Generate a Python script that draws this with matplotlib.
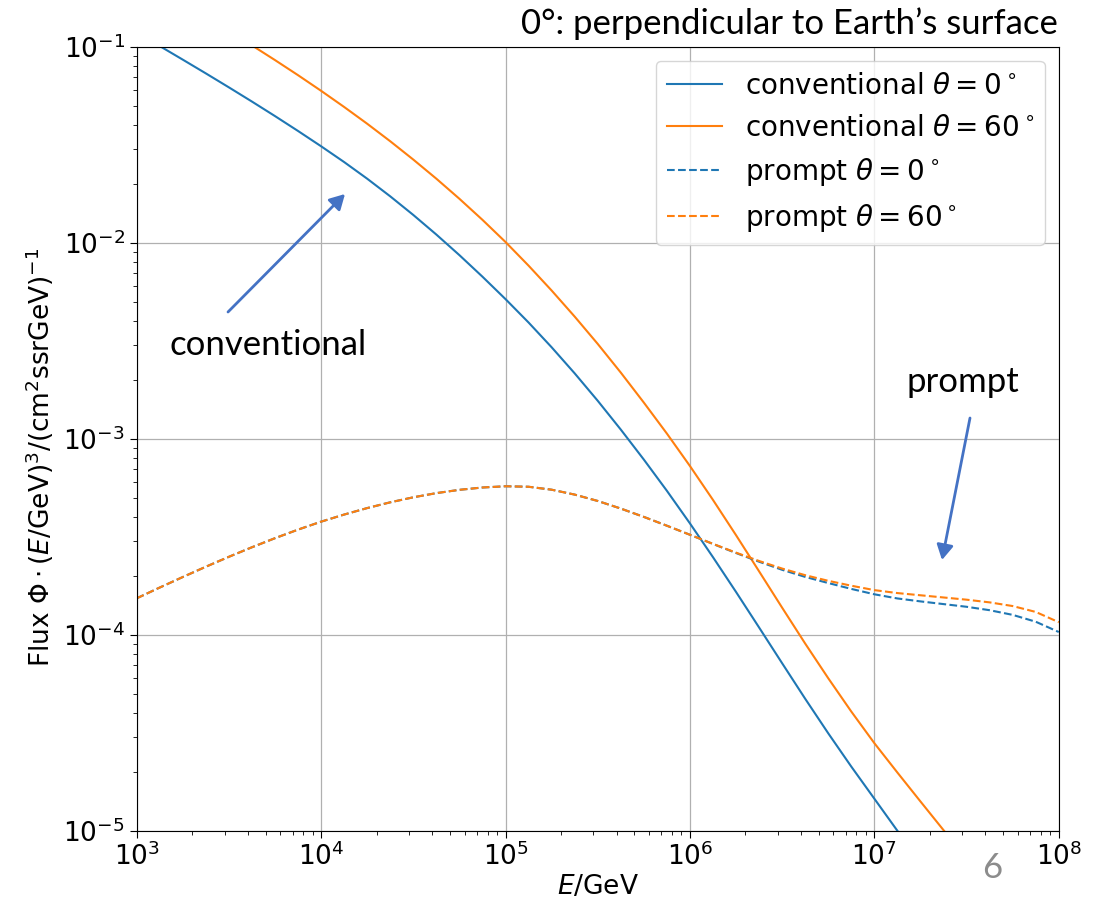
import matplotlib
matplotlib.use("Agg")
import matplotlib.pyplot as plt
from matplotlib.patches import FancyArrowPatch

# ---- data (log10 values) ----
# conventional fluxes: log10(E/GeV) on eighth-decade steps
conv_log_e = [3.0, 3.125, 3.25, 3.375, 3.5, 3.625, 3.75, 3.875, 4.0, 4.125, 4.25,
              4.375, 4.5, 4.625, 4.75, 4.875, 5.0, 5.125, 5.25, 5.375, 5.5, 5.625,
              5.75, 5.875, 6.0, 6.125, 6.25, 6.375, 6.5, 6.625, 6.75, 6.875, 7.0,
              7.125, 7.25, 7.375, 7.5]
conv_0_log_flux = [-0.9267, -0.9956, -1.065, -1.1351, -1.2064, -1.2789, -1.353, -1.429,
                   -1.507, -1.5876, -1.6726, -1.7626, -1.8576, -1.9576, -2.0626, -2.1726,
                   -2.287, -2.4064, -2.5327, -2.6658, -2.8058, -2.9527, -3.1058, -3.2652,
                   -3.4315, -3.604, -3.7815, -3.9628, -4.1453, -4.3265, -4.5028, -4.6728,
                   -4.8365, -5.0003, -5.1603, None, None]
conv_60_log_flux = [None, -0.7051, -0.7757, -0.847, -0.9191, -0.9922, -1.0672, -1.1443,
                    -1.224, -1.3065, -1.3921, -1.4815, -1.575, -1.6725, -1.775, -1.8825,
                    -1.9956, -2.1162, -2.2431, -2.3762, -2.5156, -2.6619, -2.815, -2.9731,
                    -3.1387, -3.3118, -3.4918, -3.6762, -3.8618, -4.0449, -4.2218, -4.3918,
                    -4.5531, -4.7031, -4.8506, -4.9969, -5.1419]

# prompt fluxes: log10(E/GeV) on eighth-decade steps
prompt_log_e = [3.0, 3.125, 3.25, 3.375, 3.5, 3.625, 3.75, 3.875, 4.0, 4.125, 4.25,
                4.375, 4.5, 4.625, 4.75, 4.875, 5.0, 5.125, 5.25, 5.375, 5.5, 5.625,
                5.75, 5.875, 6.0, 6.125, 6.25, 6.375, 6.5, 6.625, 6.75, 6.875, 7.0,
                7.125, 7.25, 7.375, 7.5, 7.625, 7.75, 7.875, 8.0]
prompt_0_log_flux = [-3.814, -3.759, -3.7053, -3.6528, -3.6021, -3.5534, -3.5071, -3.4634,
                     -3.4228, -3.3865, -3.3534, -3.324, -3.2984, -3.2771, -3.2603, -3.2484,
                     -3.2421, -3.2446, -3.2596, -3.2846, -3.3171, -3.3559, -3.3984, -3.4434,
                     -3.4896, -3.5365, -3.5827, -3.6271, -3.6684, -3.7046, -3.7359, -3.7659,
                     -3.7934, -3.8146, -3.8296, -3.8434, -3.8571, -3.8746, -3.8984, -3.9334,
                     -3.9859]
prompt_60_log_flux = [-3.814, -3.759, -3.7053, -3.6528, -3.6021, -3.5534, -3.5071, -3.4634,
                      -3.4228, -3.3865, -3.3534, -3.324, -3.2984, -3.2771, -3.2603, -3.2484,
                      -3.2421, -3.2446, -3.2596, -3.2846, -3.3171, -3.3559, -3.3984, -3.4434,
                      -3.4896, -3.5359, -3.5809, -3.6234, -3.6621, -3.6959, -3.7246, -3.7496,
                      -3.7721, -3.7871, -3.7984, -3.8096, -3.8209, -3.8346, -3.8534, -3.8834,
                      -3.9359]

labels = [r"conventional $\theta = 0^\circ$", r"conventional $\theta = 60^\circ$",
          r"prompt $\theta = 0^\circ$", r"prompt $\theta = 60^\circ$"]


def to_linear(log_x, log_y):
    pts = [(10.0 ** a, 10.0 ** b) for a, b in zip(log_x, log_y) if b is not None]
    return [p[0] for p in pts], [p[1] for p in pts]


fig = plt.figure(figsize=(11.11, 9.02), dpi=100)
ax = fig.add_axes([0.123, 0.079, 0.830, 0.869])

c_blue = "#1f77b4"
c_orange = "#ff7f0e"
x, y = to_linear(conv_log_e, conv_0_log_flux)
ax.plot(x, y, color=c_blue, lw=1.5, label=labels[0])
x, y = to_linear(conv_log_e, conv_60_log_flux)
ax.plot(x, y, color=c_orange, lw=1.5, label=labels[1])
x, y = to_linear(prompt_log_e, prompt_0_log_flux)
ax.plot(x, y, color=c_blue, lw=1.5, ls="--", label=labels[2])
x, y = to_linear(prompt_log_e, prompt_60_log_flux)
ax.plot(x, y, color=c_orange, lw=1.5, ls="--", label=labels[3])

ax.set_xscale("log")
ax.set_yscale("log")
ax.set_xlim(1e3, 1e8)
ax.set_ylim(1e-5, 1e-1)
ax.grid(True, which="major", color="#b0b0b0", lw=0.9)
ax.tick_params(axis="both", which="major", labelsize=19, length=5)
ax.tick_params(axis="both", which="minor", length=3)

ax.set_xlabel(r"$E/\mathrm{GeV}$", fontsize=19, labelpad=2)
ax.set_ylabel(r"Flux $\Phi \cdot (E/\mathrm{GeV})^3/(\mathrm{cm}^2\mathrm{ssrGeV})^{-1}$",
              fontsize=19)
ax.yaxis.set_label_coords(-0.088, 0.477)

leg = ax.legend(loc="upper right", fontsize=20, framealpha=0.8, handlelength=2.0)

arrow_c = "#4472C4"
font_txt = ["Lato", "DejaVu Sans"]
fig.text(0.952, 0.974, "0°: perpendicular to Earth’s surface", ha="right", va="center",
         fontsize=25, family=font_txt)
fig.text(0.153, 0.618, "conventional", ha="left", va="center", fontsize=25, family=font_txt)
fig.text(0.867, 0.577, "prompt", ha="center", va="center", fontsize=25, family=font_txt)
fig.text(0.893, 0.038, "6", ha="center", va="center", fontsize=25, color="#8c8c8c",
         family=font_txt)

fig.add_artist(FancyArrowPatch(
    (228 / 1111, 1 - 312 / 902), (345 / 1111, 1 - 194 / 902), transform=fig.transFigure,
    arrowstyle="-|>,head_length=9,head_width=5", color=arrow_c, lw=2,
    shrinkA=0, shrinkB=0))
fig.add_artist(FancyArrowPatch(
    (970 / 1111, 1 - 418 / 902), (942 / 1111, 1 - 560 / 902), transform=fig.transFigure,
    arrowstyle="-|>,head_length=9,head_width=5", color=arrow_c, lw=2,
    shrinkA=0, shrinkB=0))

fig.savefig("out.png", dpi=100)
